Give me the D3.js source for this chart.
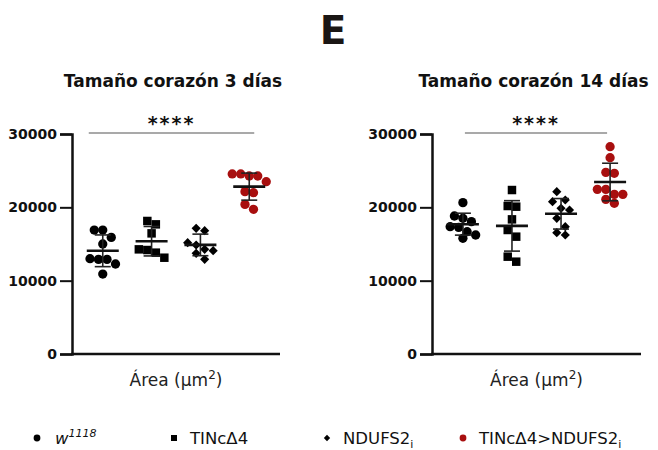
<!DOCTYPE html>
<html>
<head>
<meta charset="utf-8">
<script src="https://cdn.jsdelivr.net/npm/d3@7"></script>
<style>
  body{ margin:0; background:#fff; }
  text{ font-family:"DejaVu Sans", Verdana, sans-serif; }
</style>
</head>
<body>
<div id="chart"></div>
<script>
// groups, in plotting order
var groups = ["w1118", "TINcD4", "NDUFS2i", "TINcD4>NDUFS2i"];
var shapes = ["circle", "square", "diamond", "circle"];
var colors = ["#000", "#000", "#000", "#a80f0f"];

// heart size (area um2) after 3 days
var day3_w1118   = [15900, 16900, 16900, 15000, 12900, 13000, 12900, 12270, 10900];
var day3_tinc    = [17680, 18140, 16450, 14180, 13130, 14270, 13820];
var day3_ndufs   = [16820, 17140, 14860, 15180, 14270, 13730, 14090, 12910];
var day3_cross   = [24550, 24270, 24270, 24550, 23500, 22000, 22140, 20400, 19730];

// heart size after 14 days
var day14_w1118  = [20640, 18500, 18820, 17270, 17360, 18050, 16680, 15780, 16230];
var day14_tinc   = [22360, 20090, 20180, 18360, 16910, 16000, 13270, 12590];
var day14_ndufs  = [22140, 21000, 20770, 19860, 19640, 18500, 17360, 16230, 16550];
var day14_cross  = [28270, 26770, 24770, 24640, 21770, 22450, 22450, 21770, 21090, 20550];

var yTicks = [0, 10000, 20000, 30000];

var panels = [
  { title: "Tamaño corazón 3 días",  x0: 72,  x1: 280, barL: -14, barR: 5,
    data: [day3_w1118, day3_tinc, day3_ndufs, day3_cross] },
  { title: "Tamaño corazón 14 días", x0: 432, x1: 641, barL: 2, barR: -3,
    data: [day14_w1118, day14_tinc, day14_ndufs, day14_cross] }
];

var W = 658, H = 450;
var svg = d3.select("#chart").append("svg")
  .attr("width", W).attr("height", H);

svg.append("text")
  .attr("x", 333).attr("y", 44)
  .attr("text-anchor", "middle")
  .attr("font-size", 39).attr("font-weight", "bold")
  .attr("fill", "#1a1614")
  .text("E");

var y = d3.scaleLinear().domain([0, 30000]).range([354, 134]);

function symbolFor(shape, size){
  var t = shape === "circle" ? d3.symbolCircle : d3.symbolSquare;
  return d3.symbol().type(t).size(size)();
}

// spread points of similar value into rows (Prism-like scatter)
function layoutRow(values){
  var sorted = values.slice().sort(function(a, b){ return b - a; });
  var rows = [], cur = null;
  sorted.forEach(function(v){
    if (cur && Math.abs(y(v) - y(cur[0])) < 8.5) cur.push(v);
    else { cur = [v]; rows.push(cur); }
  });
  var out = [];
  rows.forEach(function(r){
    r.forEach(function(v, i){ out.push({ v: v, dx: (i - (r.length - 1) / 2) * 8.5 }); });
  });
  return out;
}

panels.forEach(function(p){
  var g = svg.append("g");
  var x = d3.scalePoint().domain(groups).range([p.x0, p.x1]).padding(0.63);
  var cx = (p.x0 + p.x1) / 2;

  g.append("text")
    .attr("x", cx - 3).attr("y", 87)
    .attr("text-anchor", "middle")
    .attr("font-size", 17).attr("font-weight", "bold")
    .attr("fill", "#111")
    .text(p.title);

  // y axis
  var ya = g.append("g")
    .attr("transform", "translate(" + p.x0 + ",0)")
    .call(d3.axisLeft(y).tickValues(yTicks).tickSize(12).tickPadding(3).tickFormat(d3.format("d")));
  ya.select(".domain").attr("stroke", "#111").attr("stroke-width", 2.5);
  ya.selectAll(".tick line").attr("stroke", "#111").attr("stroke-width", 2);
  ya.selectAll(".tick text")
    .attr("font-family", "DejaVu Sans, Verdana, sans-serif")
    .attr("font-size", 14).attr("font-weight", "bold").attr("fill", "#111");

  // x axis line
  g.append("line")
    .attr("x1", p.x0 - 1).attr("x2", p.x1)
    .attr("y1", y(0)).attr("y2", y(0))
    .attr("stroke", "#111").attr("stroke-width", 2.5);

  var lbl = g.append("text")
    .attr("x", cx).attr("y", 386)
    .attr("text-anchor", "middle")
    .attr("font-size", 17).attr("fill", "#222");
  lbl.append("tspan").text("Área (μm");
  lbl.append("tspan").attr("dy", -7).attr("font-size", 12).text("2");
  lbl.append("tspan").attr("dy", 7).text(")");

  // significance bar
  var bx0 = x(groups[0]) + p.barL, bx1 = x(groups[3]) + p.barR;
  g.append("line")
    .attr("x1", bx0).attr("x2", bx1)
    .attr("y1", y(30000) - 1).attr("y2", y(30000) - 1)
    .attr("stroke", "#555").attr("stroke-width", 1.2);
  g.append("text")
    .attr("x", (bx0 + bx1) / 2).attr("y", y(30000) - 4)
    .attr("text-anchor", "middle")
    .attr("font-size", 19).attr("font-weight", "bold").attr("letter-spacing", 2)
    .attr("fill", "#111")
    .text("****");

  p.data.forEach(function(vals, i){
    var gx = x(groups[i]);
    var mean = d3.mean(vals), sd = d3.deviation(vals);
    var pts = layoutRow(vals);
    var size = shapes[i] === "square" ? 72 : shapes[i] === "diamond" ? 42 : 68;
    var rot = shapes[i] === "diamond" ? " rotate(45)" : "";

    g.selectAll(null).data(pts).enter().append("path")
      .attr("d", symbolFor(shapes[i], size))
      .attr("transform", function(d){ return "translate(" + (gx + d.dx) + "," + y(d.v) + ")" + rot; })
      .attr("fill", colors[i]);

    var eb = g.append("g").attr("stroke", "#222");
    eb.append("line").attr("x1", gx).attr("x2", gx)
      .attr("y1", y(mean + sd)).attr("y2", y(mean - sd)).attr("stroke-width", 1.6);
    [mean + sd, mean - sd].forEach(function(v){
      eb.append("line").attr("x1", gx - 8).attr("x2", gx + 8)
        .attr("y1", y(v)).attr("y2", y(v)).attr("stroke-width", 1.6);
    });
    eb.append("line").attr("x1", gx - 16).attr("x2", gx + 16)
      .attr("y1", y(mean)).attr("y2", y(mean)).attr("stroke", "#111").attr("stroke-width", 2.6);
  });
});

// legend
var legendX = [37, 174, 327, 463];
var lg = svg.append("g");
groups.forEach(function(name, i){
  lg.append("path")
    .attr("d", symbolFor(shapes[i], shapes[i] === "diamond" ? 20 : 36))
    .attr("transform", "translate(" + legendX[i] + ",438)" + (shapes[i] === "diamond" ? " rotate(45)" : ""))
    .attr("fill", colors[i]);
  var t = lg.append("text")
    .attr("x", legendX[i] + (i === 0 ? 18 : 16)).attr("y", 444)
    .attr("font-family", "Liberation Sans, Arial, sans-serif")
    .attr("font-size", 16.5).attr("fill", "#111");
  if (i === 0) {
    t.append("tspan").attr("font-style", "italic").text("w");
    t.append("tspan").attr("font-style", "italic").attr("font-size", 11).attr("dy", -7).text("1118");
  } else if (i === 1) {
    t.text("TINcΔ4");
  } else if (i === 2) {
    t.append("tspan").text("NDUFS2");
    t.append("tspan").attr("font-size", 11).attr("dy", 4).text("i");
  } else {
    t.append("tspan").text("TINcΔ4>NDUFS2");
    t.append("tspan").attr("font-size", 11).attr("dy", 4).text("i");
  }
});
</script>
</body>
</html>
